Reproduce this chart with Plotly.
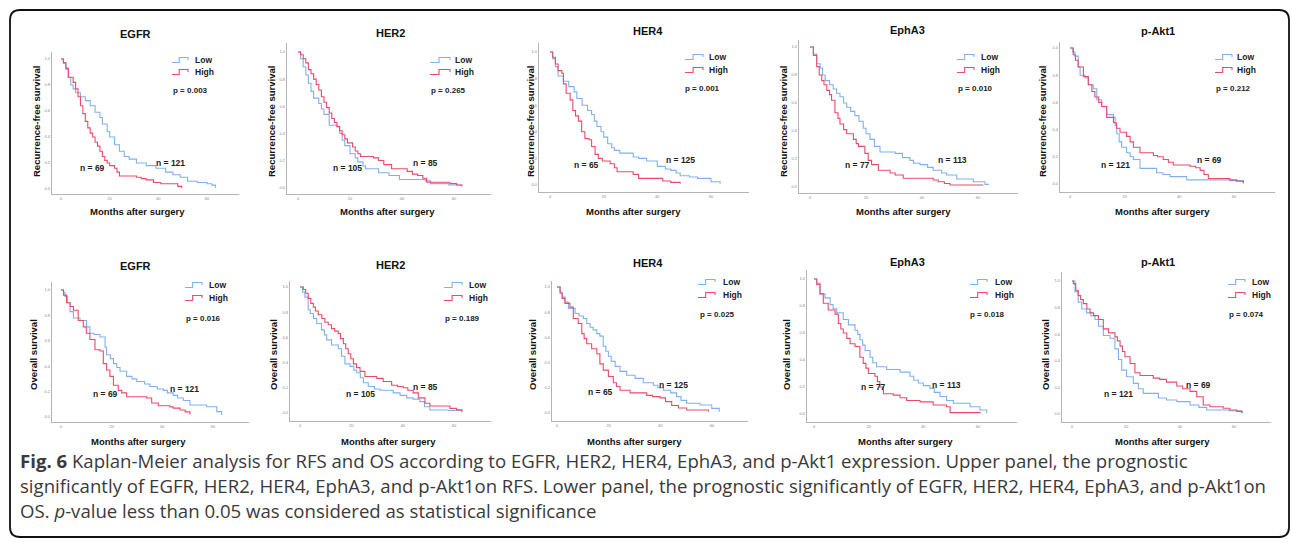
import plotly.graph_objects as go

W, H = 1292, 544

# ---------------- data ----------------
gene_titles = ["EGFR", "HER2", "HER4", "EphA3", "p-Akt1"]
p_rfs = ["p = 0.003", "p = 0.265", "p = 0.001", "p = 0.010", "p = 0.212"]
p_os = ["p = 0.016", "p = 0.189", "p = 0.025", "p = 0.018", "p = 0.074"]
n_low = ["n = 121", "n = 105", "n = 125", "n = 113", "n = 121"]
n_high = ["n = 69", "n = 85", "n = 65", "n = 77", "n = 69"]
x_ticks = [0, 20, 40, 60]
y_ticks = [0.0, 0.2, 0.4, 0.6, 0.8, 1.0]

# RFS EGFR
rfs_egfr_low_t = [0, 1, 2, 3, 4, 5, 6, 8, 10, 12, 14, 16, 17, 19, 20, 22, 24, 26, 28, 31, 35, 39, 43, 46, 49, 52, 56, 60, 62, 63.5]
rfs_egfr_low_s = [1.0, 0.97, 0.92, 0.86, 0.80, 0.77, 0.74, 0.71, 0.68, 0.64, 0.59, 0.55, 0.50, 0.44, 0.40, 0.34, 0.29, 0.25, 0.23, 0.20, 0.18, 0.16, 0.13, 0.11, 0.09, 0.06, 0.05, 0.04, 0.03, 0.01]
rfs_egfr_high_t = [0, 1, 2, 3, 5, 6, 7, 8, 9, 10, 11, 12, 13, 14, 15, 16, 17, 18, 19, 20, 22, 23, 24, 31, 33, 35, 38, 41, 48, 49.6]
rfs_egfr_high_s = [1.0, 0.97, 0.93, 0.86, 0.82, 0.77, 0.71, 0.64, 0.58, 0.52, 0.47, 0.43, 0.40, 0.36, 0.33, 0.29, 0.25, 0.22, 0.20, 0.18, 0.16, 0.13, 0.10, 0.09, 0.08, 0.07, 0.05, 0.04, 0.02, 0.01]

# RFS HER2
rfs_her2_low_t = [0, 1, 2, 3, 4, 5, 6, 8, 9, 10, 12, 15, 16, 17, 18, 20, 22, 23, 25, 26, 31, 35, 39, 49, 51, 58, 63]
rfs_her2_low_s = [1.0, 0.95, 0.89, 0.83, 0.77, 0.71, 0.66, 0.62, 0.58, 0.54, 0.46, 0.45, 0.40, 0.35, 0.31, 0.25, 0.22, 0.19, 0.16, 0.14, 0.11, 0.09, 0.06, 0.05, 0.03, 0.02, 0.01]
rfs_her2_high_t = [0, 1, 2, 3, 4, 5, 6, 7, 8, 9, 10, 11, 12, 13, 14, 15, 16, 17, 18, 19, 21, 22, 23, 24, 29, 31, 33, 36, 42, 44, 46, 48, 49.5, 58.5, 61, 63]
rfs_her2_high_s = [1.0, 0.98, 0.95, 0.92, 0.87, 0.84, 0.80, 0.76, 0.72, 0.67, 0.63, 0.59, 0.55, 0.51, 0.48, 0.45, 0.42, 0.39, 0.36, 0.33, 0.30, 0.27, 0.25, 0.23, 0.22, 0.20, 0.17, 0.14, 0.12, 0.10, 0.09, 0.07, 0.04, 0.03, 0.02, 0.01]

# RFS HER4
rfs_her4_low_t = [0, 1, 2, 3, 5, 7, 9, 10, 12, 14, 15.5, 16.5, 17.5, 19, 20, 21.5, 23, 24, 26, 31, 33, 36, 40, 43, 45, 47, 48.5, 52, 55, 60, 63.4]
rfs_her4_low_s = [1.0, 0.95, 0.89, 0.82, 0.78, 0.74, 0.70, 0.65, 0.60, 0.56, 0.53, 0.48, 0.44, 0.40, 0.36, 0.31, 0.28, 0.26, 0.24, 0.21, 0.20, 0.18, 0.14, 0.12, 0.11, 0.09, 0.07, 0.06, 0.05, 0.025, 0.01]
rfs_her4_high_t = [0, 1, 2, 3, 4.4, 5, 6, 7.5, 8.5, 9.5, 10.6, 11.8, 13, 14.5, 15.5, 16.8, 18, 19.5, 22.4, 24, 25, 31, 33, 42, 45, 48.5]
rfs_her4_high_s = [1.0, 0.96, 0.91, 0.86, 0.84, 0.76, 0.69, 0.64, 0.56, 0.52, 0.48, 0.40, 0.35, 0.34, 0.29, 0.23, 0.20, 0.18, 0.16, 0.13, 0.10, 0.08, 0.05, 0.03, 0.02, 0.01]

# RFS EphA3
rfs_epha3_low_t = [0, 1.2, 2.4, 3.6, 4.5, 5.4, 7, 8.3, 9.5, 10.7, 12, 13.1, 14.5, 16, 17.5, 19, 20, 21.4, 23, 25, 30.4, 33, 35.7, 37, 39.3, 42, 44, 47, 48.8, 52.4, 58.3, 62.5, 63.7]
rfs_epha3_low_s = [1.0, 0.95, 0.88, 0.85, 0.80, 0.76, 0.73, 0.70, 0.67, 0.645, 0.60, 0.57, 0.54, 0.51, 0.47, 0.42, 0.38, 0.34, 0.29, 0.25, 0.24, 0.21, 0.19, 0.17, 0.16, 0.14, 0.12, 0.10, 0.086, 0.057, 0.038, 0.019, 0.014]
rfs_epha3_high_t = [0, 1.2, 2.4, 3.3, 4.2, 5, 6, 7, 7.7, 8.9, 10, 10.7, 12, 13.1, 15.5, 16.5, 17.3, 19.6, 20.8, 22, 24.4, 28.6, 30.4, 33.3, 44, 45.8, 48, 50, 61.9]
rfs_epha3_high_s = [1.0, 0.94, 0.86, 0.80, 0.76, 0.73, 0.69, 0.66, 0.62, 0.53, 0.49, 0.45, 0.41, 0.38, 0.34, 0.31, 0.29, 0.24, 0.19, 0.16, 0.12, 0.10, 0.086, 0.062, 0.05, 0.038, 0.025, 0.014, 0.014]

# RFS p-Akt1
rfs_akt1_low_t = [0, 1, 1.8, 3, 3.7, 5.5, 6.7, 8.5, 9.8, 11.6, 13.4, 15.9, 16.5, 17.1, 18, 18.9, 20.7, 22, 23.2, 25.6, 31.7, 34, 36.6, 42.7, 51, 58.5, 63.4]
rfs_akt1_low_s = [1.0, 0.97, 0.94, 0.86, 0.80, 0.78, 0.73, 0.70, 0.62, 0.57, 0.51, 0.49, 0.43, 0.37, 0.31, 0.27, 0.23, 0.20, 0.18, 0.115, 0.083, 0.07, 0.054, 0.03, 0.03, 0.025, 0.005]
rfs_akt1_high_t = [0, 1.2, 2, 3, 4.9, 6.7, 8, 9.1, 10.5, 11.6, 13.4, 15.9, 17, 18.3, 20.7, 22, 23.2, 25.6, 30.5, 32, 34.1, 36, 37.8, 43.9, 46, 47.6, 49, 50.6, 58.5, 61, 63.4]
rfs_akt1_high_s = [1.0, 0.95, 0.91, 0.86, 0.79, 0.73, 0.68, 0.64, 0.60, 0.57, 0.49, 0.45, 0.41, 0.38, 0.35, 0.31, 0.27, 0.23, 0.21, 0.20, 0.18, 0.16, 0.14, 0.13, 0.12, 0.10, 0.07, 0.04, 0.03, 0.02, 0.005]

# OS EGFR
os_egfr_low_t = [0, 1, 1.6, 2.5, 3.6, 4.9, 7.5, 10.1, 11.4, 13, 15.4, 17.4, 18, 19.5, 20.7, 22, 23.3, 25.9, 28, 29.9, 33, 35.1, 38, 40.4, 42, 44.3, 46, 48.3, 50.9, 57.5, 61.5, 63.4]
os_egfr_low_s = [1.0, 0.98, 0.95, 0.90, 0.83, 0.78, 0.76, 0.71, 0.66, 0.65, 0.63, 0.55, 0.49, 0.46, 0.42, 0.39, 0.36, 0.32, 0.30, 0.28, 0.26, 0.24, 0.22, 0.21, 0.19, 0.17, 0.15, 0.13, 0.094, 0.081, 0.042, 0.015]
os_egfr_high_t = [0, 1, 2.2, 3.6, 4.9, 6.8, 8.8, 10, 11.4, 13.4, 15.4, 16.7, 18, 19.3, 20.7, 22.6, 24, 25.9, 33.8, 35.8, 38.4, 43, 44.3, 47, 49, 50.9]
os_egfr_high_s = [1.0, 0.96, 0.90, 0.87, 0.84, 0.76, 0.71, 0.66, 0.61, 0.53, 0.52, 0.42, 0.37, 0.32, 0.25, 0.21, 0.19, 0.16, 0.15, 0.11, 0.089, 0.08, 0.07, 0.055, 0.04, 0.02]

# OS HER2
os_her2_low_t = [0, 1, 1.9, 3.2, 4, 5.2, 6.5, 8.4, 9.5, 10.4, 12.3, 14.9, 16.2, 17.5, 19.5, 21, 22.1, 23.5, 24.7, 26.6, 29, 31.2, 36.3, 39, 41.6, 44, 46.7, 48.5, 50.6, 58, 63]
os_her2_low_s = [1.0, 0.96, 0.92, 0.82, 0.79, 0.75, 0.71, 0.66, 0.62, 0.58, 0.54, 0.51, 0.45, 0.39, 0.37, 0.34, 0.32, 0.28, 0.24, 0.21, 0.19, 0.18, 0.16, 0.14, 0.12, 0.11, 0.09, 0.05, 0.024, 0.02, 0.01]
os_her2_high_t = [0, 1.3, 2.2, 3.2, 4.2, 5.2, 6, 7.1, 8.5, 9.7, 11, 12.3, 13.5, 14.9, 15.8, 16.9, 17.8, 18.8, 19.8, 20.8, 22, 23.4, 25.3, 29.9, 32.4, 35.7, 38, 40.2, 42, 44.1, 46.1, 48.7, 50.6, 58.4, 61, 63.1]
os_her2_high_s = [1.0, 0.98, 0.95, 0.91, 0.87, 0.84, 0.81, 0.78, 0.75, 0.72, 0.70, 0.67, 0.65, 0.63, 0.59, 0.55, 0.51, 0.47, 0.43, 0.39, 0.36, 0.33, 0.29, 0.275, 0.25, 0.22, 0.21, 0.20, 0.18, 0.16, 0.12, 0.077, 0.056, 0.037, 0.025, 0.01]

# OS HER4
os_her4_low_t = [0, 1.2, 2, 3.1, 4.4, 7, 8.5, 10.2, 11.5, 12.8, 14, 15.4, 16.6, 17.9, 18.9, 19.9, 21, 22.5, 24.4, 27, 30.2, 33.4, 37.3, 39, 41.2, 44, 46.3, 48, 50.2, 55.4, 59.9, 62.8]
os_her4_low_s = [1.0, 0.96, 0.92, 0.88, 0.83, 0.79, 0.77, 0.75, 0.71, 0.68, 0.66, 0.63, 0.61, 0.53, 0.49, 0.45, 0.41, 0.37, 0.33, 0.30, 0.275, 0.24, 0.22, 0.20, 0.18, 0.16, 0.13, 0.10, 0.077, 0.063, 0.037, 0.01]
os_her4_high_t = [0, 1.2, 2, 3.1, 5, 6.3, 8.2, 9.6, 10.5, 11.5, 13.4, 15.4, 16.6, 17.9, 19.9, 21.8, 23, 24.4, 28.3, 34.7, 37, 39.9, 42, 44.4, 47, 50.2, 58.6]
os_her4_high_s = [1.0, 0.95, 0.91, 0.87, 0.84, 0.75, 0.71, 0.63, 0.59, 0.55, 0.51, 0.47, 0.39, 0.34, 0.29, 0.24, 0.21, 0.18, 0.16, 0.14, 0.13, 0.12, 0.09, 0.06, 0.04, 0.024, 0.01]

# OS EphA3
os_epha3_low_t = [0, 1, 2.2, 4, 5.9, 7, 8.3, 10.7, 12.6, 15, 16, 16.8, 17.8, 18.7, 20.5, 21.5, 22.9, 26.6, 31.5, 35.1, 36.5, 38.2, 40, 42.4, 44, 46.1, 48.5, 51, 57.1, 60.7, 63.2]
os_epha3_low_s = [1.0, 0.97, 0.89, 0.86, 0.81, 0.78, 0.75, 0.70, 0.66, 0.62, 0.59, 0.55, 0.51, 0.47, 0.42, 0.38, 0.35, 0.33, 0.31, 0.28, 0.25, 0.23, 0.21, 0.19, 0.16, 0.13, 0.10, 0.08, 0.054, 0.03, 0.005]
os_epha3_high_t = [0, 1, 2.2, 3.4, 5.2, 7.7, 8.9, 9.8, 10.7, 12, 13.2, 15, 16.8, 18, 19, 19.9, 22.3, 23.2, 24.1, 25.4, 29, 31.5, 33.9, 38.8, 43.6, 48.5, 49.8, 61]
os_epha3_high_s = [1.0, 0.96, 0.89, 0.82, 0.77, 0.74, 0.67, 0.63, 0.60, 0.56, 0.52, 0.50, 0.42, 0.375, 0.34, 0.30, 0.28, 0.24, 0.20, 0.15, 0.14, 0.12, 0.10, 0.09, 0.067, 0.054, 0.01, 0.01]

# OS p-Akt1
os_akt1_low_t = [0, 1.1, 2.3, 3.6, 5.4, 7, 8.5, 9.8, 11.6, 14.1, 15.9, 17.2, 18.4, 20.2, 22.7, 24.6, 26.4, 32, 35, 38.8, 43.7, 47, 49.9, 58, 62.8]
os_akt1_low_s = [1.0, 0.92, 0.84, 0.79, 0.76, 0.74, 0.71, 0.66, 0.59, 0.57, 0.49, 0.41, 0.33, 0.28, 0.23, 0.19, 0.155, 0.12, 0.105, 0.093, 0.068, 0.05, 0.03, 0.025, 0.01]
os_akt1_high_t = [0, 0.5, 1.4, 2.3, 3.2, 4.2, 5.5, 6.7, 8, 9.8, 11.6, 13.5, 15.9, 16.8, 17.8, 18.7, 19.6, 21.5, 23.3, 25.2, 30.1, 32.5, 35, 38.8, 41, 43.7, 46.2, 48.6, 51.1, 56, 58.5, 61, 63]
os_akt1_high_s = [1.0, 0.98, 0.93, 0.89, 0.86, 0.83, 0.79, 0.76, 0.74, 0.71, 0.64, 0.61, 0.58, 0.55, 0.51, 0.47, 0.43, 0.38, 0.31, 0.29, 0.27, 0.26, 0.24, 0.21, 0.19, 0.17, 0.13, 0.068, 0.055, 0.043, 0.03, 0.02, 0.005]

caption_lines = [
    "<b>Fig. 6</b> Kaplan-Meier analysis for RFS and OS according to EGFR, HER2, HER4, EphA3, and p-Akt1 expression. Upper panel, the prognostic",
    "significantly of EGFR, HER2, HER4, EphA3, and p-Akt1on RFS. Lower panel, the prognostic significantly of EGFR, HER2, HER4, EphA3, and p-Akt1on",
    "OS. <i>p</i>-value less than 0.05 was considered as statistical significance",
]

curves = [
    (rfs_egfr_low_t, rfs_egfr_low_s, rfs_egfr_high_t, rfs_egfr_high_s),
    (rfs_her2_low_t, rfs_her2_low_s, rfs_her2_high_t, rfs_her2_high_s),
    (rfs_her4_low_t, rfs_her4_low_s, rfs_her4_high_t, rfs_her4_high_s),
    (rfs_epha3_low_t, rfs_epha3_low_s, rfs_epha3_high_t, rfs_epha3_high_s),
    (rfs_akt1_low_t, rfs_akt1_low_s, rfs_akt1_high_t, rfs_akt1_high_s),
    (os_egfr_low_t, os_egfr_low_s, os_egfr_high_t, os_egfr_high_s),
    (os_her2_low_t, os_her2_low_s, os_her2_high_t, os_her2_high_s),
    (os_her4_low_t, os_her4_low_s, os_her4_high_t, os_her4_high_s),
    (os_epha3_low_t, os_epha3_low_s, os_epha3_high_t, os_epha3_high_s),
    (os_akt1_low_t, os_akt1_low_s, os_akt1_high_t, os_akt1_high_s),
]

# ---------------- layout geometry (pixels) ----------------
# axis-left, axis-right, top, axis-bottom, px of x=0, px of x=60, px of y=1, px of y=0
geom = [
    (52, 239, 52, 194, 61, 207, 59, 189),
    (287, 491, 43, 194, 298, 454, 52, 187.7),
    (539, 749, 43, 192, 550, 711, 52, 185),
    (799, 1018, 40, 193, 810, 978, 47, 187),
    (1060, 1275, 42, 192, 1070, 1234, 48, 184),
    (52, 249, 282, 422, 61, 213, 290, 417),
    (290, 491, 281, 421, 300, 454, 287, 413),
    (552, 748, 281, 421, 557, 712, 287, 413),
    (807, 1017, 270, 422, 814, 978, 279, 414),
    (1062, 1271, 272, 422, 1072, 1234, 281, 414),
]
# title(x,y), ytitle x, ytitle y, xtitle(x,y), icon l, icon r, legend text x, low y, high y, p(x,y), nlow(x,y), nhigh(x,y)
txt = [
    ((135, 34), 37, 122, (137, 212), 172, 188, 193, 60, 72, (190, 91), (170, 163), (92, 168)),
    ((390, 33), 272, 122, (387, 212), 430, 450, 453, 60, 72, (448, 91), (347, 168), (426, 163)),
    ((648, 31), 531, 122, (633, 212), 685, 703, 707, 57, 70, (703, 89), (680, 160), (586, 165)),
    ((907, 30), 784, 122, (903, 212), 957, 974, 979, 57, 70, (975, 89), (952, 160), (857, 165)),
    ((1158, 31), 1043, 122, (1162, 212), 1215, 1232, 1235, 57, 70, (1233, 89), (1115, 165), (1209, 160)),
    ((135, 266), 33, 355, (138, 441), 185, 202, 207, 285, 298, (203, 318), (184, 389), (105, 394)),
    ((390, 265), 273, 355, (388, 441), 444, 462, 467, 285, 298, (462, 318), (360, 394), (426, 387)),
    ((648, 263), 532, 355, (634, 441), 698, 715, 721, 282, 295, (717, 314), (673, 385), (600, 392)),
    ((907, 262), 786, 355, (905, 441), 970, 987, 993, 282, 295, (988, 314), (946, 385), (873, 387)),
    ((1158, 262), 1045, 355, (1162, 441), 1228, 1245, 1250, 282, 295, (1246, 314), (1118, 394), (1198, 385)),
]

LOW_COLOR = "#80b1ee"
HIGH_COLOR = "#e84c6c"
AX_COLOR = "#b4b4b4"
FONT = "Arial, Liberation Sans, sans-serif"


def px(x):
    return x / W


def py(y):
    return 1 - y / H


fig = go.Figure()
layout = dict(
    width=W, height=H, margin=dict(l=0, r=0, t=0, b=0),
    paper_bgcolor="white", plot_bgcolor="white", showlegend=False,
    font=dict(family=FONT),
)
annotations = []
shapes = []

for i in range(10):
    lt, ls, ht, hs = curves[i]
    L, R, T, B, x0, x60, y1, y0 = geom[i]
    kx = (x60 - x0) / 60.0
    ky = (y0 - y1)
    sfx = "" if i == 0 else str(i + 1)
    xa, ya = "x" + sfx, "y" + sfx
    fig.add_trace(go.Scatter(x=lt, y=ls, mode="lines", line=dict(color=LOW_COLOR, width=1.1, shape="hv"),
                             xaxis=xa, yaxis=ya, hoverinfo="skip"))
    fig.add_trace(go.Scatter(x=ht, y=hs, mode="lines", line=dict(color=HIGH_COLOR, width=1.1, shape="hv"),
                             xaxis=xa, yaxis=ya, hoverinfo="skip"))
    layout["xaxis" + sfx] = dict(
        domain=[px(L), px(R)], range=[(L - x0) / kx, (R - x0) / kx], anchor=ya,
        showline=True, linecolor=AX_COLOR, linewidth=1.4, showgrid=False, zeroline=False,
        tickvals=x_ticks, ticks="", tickfont=dict(size=4, color="#888", family=FONT),
    )
    layout["yaxis" + sfx] = dict(
        domain=[py(B), py(T)], range=[(y0 - B) / ky, (y0 - T) / ky], anchor=xa,
        showline=True, linecolor=AX_COLOR, linewidth=1.4, showgrid=False, zeroline=False,
        tickvals=y_ticks, tickformat=".1f", ticks="", tickfont=dict(size=4, color="#888", family=FONT),
    )

    (tx, tyy), ytx, yty, (xtx, xty), il, ir, ltx, lowy, highy, (ppx, ppy), (nlx, nly), (nhx, nhy) = txt[i]
    row_rfs = i < 5
    g = i % 5
    annotations.append(dict(x=px(tx), y=py(tyy), xref="paper", yref="paper", text="<b>%s</b>" % gene_titles[g],
                            showarrow=False, font=dict(size=11, color="#111"), xanchor="center", yanchor="middle"))
    annotations.append(dict(x=px(ytx), y=py(yty), xref="paper", yref="paper",
                            text="<b>%s</b>" % ("Recurrence-free survival" if row_rfs else "Overall survival"),
                            textangle=-90, showarrow=False, font=dict(size=9.5, color="#111"),
                            xanchor="center", yanchor="middle"))
    annotations.append(dict(x=px(xtx), y=py(xty), xref="paper", yref="paper", text="<b>Months after surgery</b>",
                            showarrow=False, font=dict(size=9.5, color="#111"), xanchor="center", yanchor="middle"))
    for lab, yy, col in (("Low", lowy, LOW_COLOR), ("High", highy, HIGH_COLOR)):
        annotations.append(dict(x=px(ltx), y=py(yy), xref="paper", yref="paper", text="<b>%s</b>" % lab,
                                showarrow=False, font=dict(size=8.5, color="#222"), xanchor="left", yanchor="middle"))
        mid = il + (ir - il) * 0.45
        path = "M %f,%f L %f,%f L %f,%f L %f,%f L %f,%f" % (
            px(il), py(yy + 2.5), px(mid), py(yy + 2.5), px(mid), py(yy - 2.5), px(ir), py(yy - 2.5), px(ir), py(yy))
        shapes.append(dict(type="path", path=path, xref="paper", yref="paper", line=dict(color=col, width=1.1)))
    annotations.append(dict(x=px(ppx), y=py(ppy), xref="paper", yref="paper",
                            text="<b>%s</b>" % (p_rfs[g] if row_rfs else p_os[g]),
                            showarrow=False, font=dict(size=8, color="#222"), xanchor="center", yanchor="middle"))
    annotations.append(dict(x=px(nlx), y=py(nly), xref="paper", yref="paper", text="<b>%s</b>" % n_low[g],
                            showarrow=False, font=dict(size=8.5, color="#222"), xanchor="center", yanchor="middle"))
    annotations.append(dict(x=px(nhx), y=py(nhy), xref="paper", yref="paper", text="<b>%s</b>" % n_high[g],
                            showarrow=False, font=dict(size=8.5, color="#222"), xanchor="center", yanchor="middle"))

# caption
for k, (line, yy) in enumerate(zip(caption_lines, [460, 485, 510])):
    annotations.append(dict(x=px(18), y=py(yy), xref="paper", yref="paper", text=line, showarrow=False,
                            font=dict(size=18.6, color="#3a3a3a", family="Open Sans, Noto Sans, sans-serif"),
                            xanchor="left", yanchor="middle"))

# rounded frame
r = 10
fl, fr, ft, fb = 10, 1289, 10, 537
frame = ("M %f,%f L %f,%f Q %f,%f %f,%f L %f,%f Q %f,%f %f,%f L %f,%f Q %f,%f %f,%f L %f,%f Q %f,%f %f,%f Z" % (
    px(fl + r), py(ft), px(fr - r), py(ft), px(fr), py(ft), px(fr), py(ft + r),
    px(fr), py(fb - r), px(fr), py(fb), px(fr - r), py(fb),
    px(fl + r), py(fb), px(fl), py(fb), px(fl), py(fb - r),
    px(fl), py(ft + r), px(fl), py(ft), px(fl + r), py(ft)))
shapes.append(dict(type="path", path=frame, xref="paper", yref="paper", line=dict(color="#111", width=1.8)))

layout["annotations"] = annotations
layout["shapes"] = shapes
fig.update_layout(**layout)
fig.write_html("out.html")
